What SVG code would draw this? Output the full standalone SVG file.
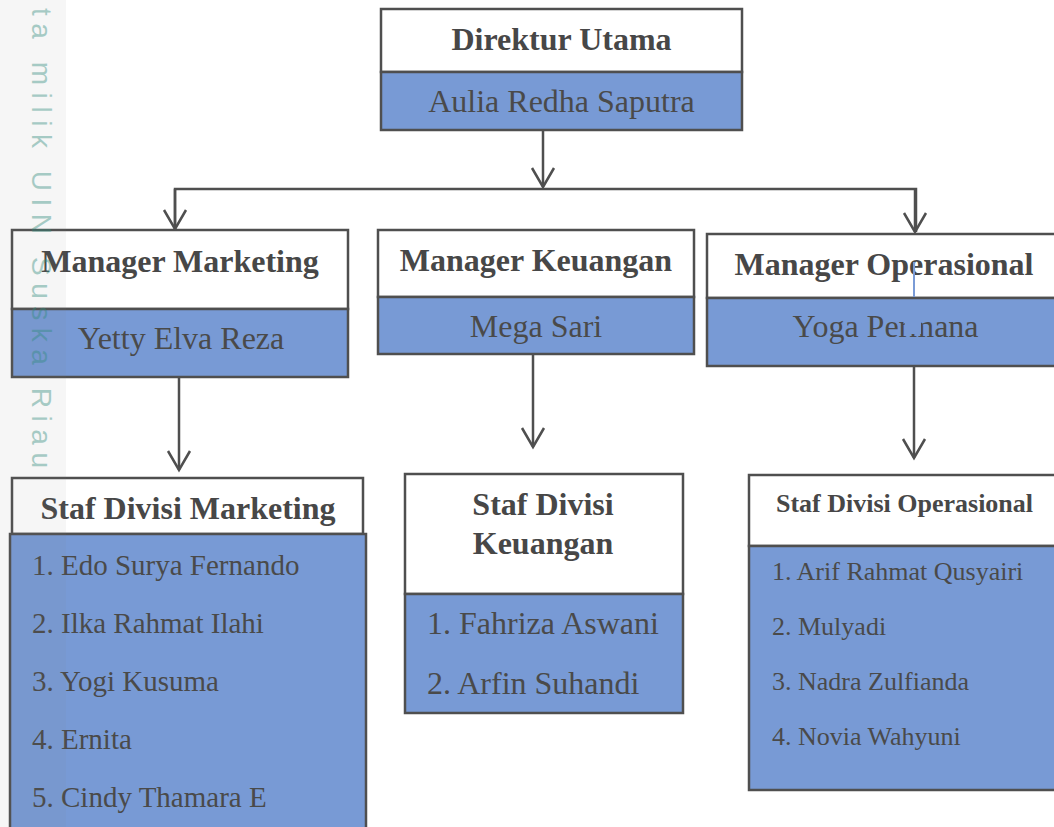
<svg xmlns="http://www.w3.org/2000/svg" width="1054" height="827" viewBox="0 0 1054 827">
<style>
  .box{stroke:#4f4f4f;stroke-width:2.5}
  .hd{fill:#ffffff}
  .bl{fill:#789ad5}
  .b{font-family:"Liberation Serif","Times New Roman",serif;font-weight:bold;fill:#474747;text-anchor:middle}
  .r{font-family:"Liberation Serif","Times New Roman",serif;fill:#4a4a4a}
  .c{text-anchor:middle}
  .ln{fill:none;stroke:#4f4f4f;stroke-width:2.5}
</style>
<defs>
  <marker id="arr" markerUnits="userSpaceOnUse" markerWidth="26" markerHeight="26" viewBox="0 0 26 26" refX="22" refY="13" orient="auto">
    <path d="M3,2 L22,13 L3,24" fill="none" stroke="#4f4f4f" stroke-width="2.5"/>
  </marker>
</defs>
<rect x="0" y="0" width="1054" height="827" fill="#ffffff"/>

<g id="connectors">
  <path class="ln" d="M543,130 V187" marker-end="url(#arr)"/>
  <path class="ln" d="M175,229 V189 H916 V232" />
  <path class="ln" d="M175,189 V229" marker-end="url(#arr)"/>
  <path class="ln" d="M915,189 V232" marker-end="url(#arr)"/>
  <path class="ln" d="M179,377 V470" marker-end="url(#arr)"/>
  <path class="ln" d="M533,354 V447" marker-end="url(#arr)"/>
  <path class="ln" d="M914,366 V458" marker-end="url(#arr)"/>
</g>

<g id="direktur">
  <rect class="box hd" x="381" y="9" width="361" height="63"/>
  <rect class="box bl" x="381" y="72" width="361" height="58"/>
  <text class="b" x="561.5" y="50" font-size="32">Direktur Utama</text>
  <text class="r c" x="561.5" y="112" font-size="32">Aulia Redha Saputra</text>
</g>

<g id="manager-marketing">
  <rect class="box hd" x="12" y="230" width="336" height="79"/>
  <rect class="box bl" x="12" y="309" width="336" height="68"/>
  <text class="b" x="180" y="272" font-size="32">Manager Marketing</text>
  <text class="r c" x="181" y="349" font-size="32">Yetty Elva Reza</text>
</g>

<g id="manager-keuangan">
  <rect class="box hd" x="378" y="230" width="316" height="67"/>
  <rect class="box bl" x="378" y="297" width="316" height="57"/>
  <text class="b" x="536" y="271" font-size="32">Manager Keuangan</text>
  <text class="r c" x="536" y="337" font-size="32">Mega Sari</text>
</g>

<g id="manager-operasional">
  <rect class="box hd" x="707" y="234" width="360" height="64"/>
  <rect class="box bl" x="707" y="298" width="360" height="68"/>
  <text class="b" x="884" y="275" font-size="32">Manager Operasional</text>
  <text class="r c" x="885.5" y="337" font-size="32">Yoga Permana</text>
  <rect x="905" y="305" width="16" height="29" fill="#789ad5"/>
  <line x1="914" y1="262" x2="914" y2="297" stroke="#7a9bd6" stroke-width="2"/>
</g>

<g id="staf-marketing">
  <rect class="box hd" x="12" y="478" width="351" height="56"/>
  <rect class="box bl" x="10" y="534" width="356" height="300"/>
  <text class="b" x="188" y="519" font-size="32">Staf Divisi Marketing</text>
  <g class="r" font-size="29">
    <text x="32" y="575">1. Edo Surya Fernando</text>
    <text x="32" y="633">2. Ilka Rahmat Ilahi</text>
    <text x="32" y="691">3. Yogi Kusuma</text>
    <text x="32" y="749">4. Ernita</text>
    <text x="32" y="807">5. Cindy Thamara E</text>
  </g>
</g>

<g id="staf-keuangan">
  <rect class="box hd" x="405" y="474" width="278" height="120"/>
  <rect class="box bl" x="405" y="594" width="278" height="119"/>
  <text class="b" x="543" y="515" font-size="32">Staf Divisi</text>
  <text class="b" x="543" y="554" font-size="32">Keuangan</text>
  <g class="r" font-size="32">
    <text x="427" y="634">1. Fahriza Aswani</text>
    <text x="427" y="694">2. Arfin Suhandi</text>
  </g>
</g>

<g id="staf-operasional">
  <rect class="box hd" x="749" y="475" width="320" height="71"/>
  <rect class="box bl" x="749" y="546" width="320" height="244"/>
  <text class="b" x="904.5" y="512" font-size="26">Staf Divisi Operasional</text>
  <g class="r" font-size="26">
    <text x="772" y="580">1. Arif Rahmat Qusyairi</text>
    <text x="772" y="635">2. Mulyadi</text>
    <text x="772" y="690">3. Nadra Zulfianda</text>
    <text x="772" y="745">4. Novia Wahyuni</text>
  </g>
</g>

<g id="watermark">
  <rect x="0" y="0" width="66" height="827" fill="#808080" opacity="0.07"/>
  <text transform="translate(32,8) rotate(90)" x="0" y="0" font-family="Liberation Sans, Arial, sans-serif" font-size="28" textLength="460" lengthAdjust="spacing" fill="#2f8a7a" opacity="0.4">ta milik UIN Suska Riau</text>
</g>
</svg>
